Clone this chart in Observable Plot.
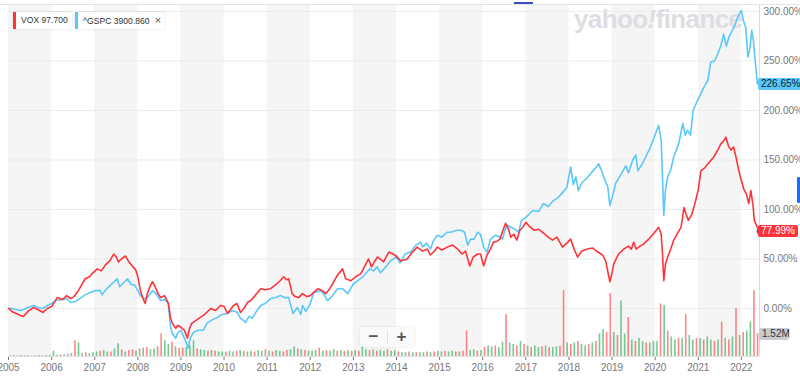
<!DOCTYPE html>
<html><head><meta charset="utf-8">
<script src="https://cdn.jsdelivr.net/npm/d3@7"></script>
<script src="https://cdn.jsdelivr.net/npm/@observablehq/plot@0.6"></script>
<style>
html,body{margin:0;padding:0;background:#fff;}
#chart{position:relative;width:800px;height:380px;overflow:hidden;font-family:"Liberation Sans",Arial,sans-serif;}
#chart svg{position:absolute;left:0;top:0;}
.topline{position:absolute;left:0;top:4px;width:800px;height:1px;background:#e3e4ea;}
.wm{position:absolute;left:574px;top:4px;font-weight:bold;font-size:26px;color:#dedee2;letter-spacing:-0.6px;white-space:nowrap;}
.chip{position:absolute;top:12px;height:17px;background:#fff;border-radius:2px;box-shadow:0 0 2px rgba(0,0,0,0.18);font-size:8.6px;line-height:17px;color:#333;white-space:nowrap;padding:0 4px 0 8px;}
.chip .bar{position:absolute;left:0;top:0;width:3px;height:17px;}
.chip .x{font-size:11px;color:#555;margin-left:5px;}
.tag{position:absolute;left:758px;height:12px;line-height:12px;font-size:10px;padding:0 3px;border-radius:2px;white-space:nowrap;}
.zoom{position:absolute;left:360px;top:327px;width:55px;height:20px;background:rgba(250,250,250,0.95);border-radius:3px;box-shadow:0 0 2px rgba(0,0,0,0.15);}
.zoom span{position:absolute;top:0;width:27px;height:20px;line-height:19px;text-align:center;font-size:17px;font-weight:bold;color:#555;}
</style></head><body><div id="chart"></div>
<script>
// ---- data ----
const years = [2005,2006,2007,2008,2009,2010,2011,2012,2013,2014,2015,2016,2017,2018,2019,2020,2021,2022];
const bandYears = [2005,2007,2009,2011,2013,2015,2017,2019,2021];
const yTicks = [0,50,100,150,200,250,300];
const xStart = 2005, xEnd = 2022.42;
const yMin = -48.5, yMax = 306;

// VOX % change [decimal year, %]
const voxSeries = [
[2005.00,0],[2005.08,-3],[2005.18,-5],[2005.28,-7],[2005.35,-8],[2005.45,-3],[2005.58,1],[2005.68,-1],[2005.80,-4],[2005.90,0],
[2006.00,2],[2006.13,11],[2006.25,9],[2006.35,13],[2006.44,10],[2006.52,12],[2006.62,18],[2006.70,24],[2006.78,30],[2006.88,32],[2006.96,36],
[2007.06,40],[2007.15,38],[2007.25,44],[2007.35,48],[2007.44,55],[2007.50,52],[2007.55,47],[2007.62,50],[2007.71,53],[2007.78,48],[2007.85,44],[2007.95,39],
[2008.00,32],[2008.06,18],[2008.12,10],[2008.17,5],[2008.22,15],[2008.28,22],[2008.34,27],[2008.40,22],[2008.47,15],[2008.53,11],[2008.62,13],[2008.71,5],[2008.76,-10],[2008.80,-15],[2008.88,-20],[2008.92,-17],
[2009.00,-19],[2009.08,-22],[2009.15,-30],[2009.20,-20],[2009.25,-15],[2009.35,-12],[2009.45,-9],[2009.55,-6],[2009.62,-3],[2009.69,0],[2009.80,-2],[2009.92,3],
[2010.00,2],[2010.08,-5],[2010.22,3],[2010.30,5],[2010.38,-4],[2010.46,0],[2010.54,6],[2010.62,8],[2010.72,13],[2010.85,20],[2010.95,19],
[2011.08,20],[2011.20,24],[2011.30,28],[2011.38,32],[2011.45,29],[2011.50,30],[2011.58,15],[2011.65,12],[2011.73,11],[2011.82,15],[2011.92,12],
[2012.00,13],[2012.10,17],[2012.18,20],[2012.28,18],[2012.36,15],[2012.45,20],[2012.52,25],[2012.62,33],[2012.75,40],[2012.82,30],[2012.94,28],
[2013.05,32],[2013.17,35],[2013.28,44],[2013.35,50],[2013.42,42],[2013.50,48],[2013.56,52],[2013.70,47],[2013.82,57],[2013.92,55],
[2014.02,52],[2014.10,48],[2014.25,50],[2014.35,56],[2014.48,62],[2014.60,58],[2014.72,60],[2014.78,54],[2014.88,58],[2014.95,62],
[2015.05,59],[2015.18,62],[2015.30,64],[2015.42,60],[2015.52,55],[2015.60,58],[2015.70,43],[2015.78,52],[2015.88,55],[2015.95,55],
[2016.02,43],[2016.10,54],[2016.18,60],[2016.25,67],[2016.33,68],[2016.40,70],[2016.47,79],[2016.53,86],[2016.60,80],[2016.65,72],[2016.72,75],[2016.79,69],[2016.86,79],[2016.93,82],
[2017.00,87],[2017.08,83],[2017.20,79],[2017.30,80],[2017.41,76],[2017.52,72],[2017.62,69],[2017.72,72],[2017.85,62],[2017.95,66],
[2018.04,70],[2018.12,60],[2018.20,52],[2018.30,58],[2018.43,60],[2018.55,61],[2018.67,57],[2018.78,54],[2018.85,48],[2018.95,27],
[2019.00,36],[2019.04,45],[2019.15,55],[2019.27,60],[2019.38,63],[2019.45,60],[2019.50,67],[2019.56,60],[2019.65,63],[2019.73,65],[2019.85,70],[2019.97,76],
[2020.08,82],[2020.14,75],[2020.17,55],[2020.20,28],[2020.24,45],[2020.29,52],[2020.36,60],[2020.43,69],[2020.52,76],[2020.60,82],[2020.67,102],[2020.72,95],[2020.77,89],[2020.85,95],[2020.94,109],
[2021.00,120],[2021.06,139],[2021.15,142],[2021.22,146],[2021.30,150],[2021.36,153],[2021.45,160],[2021.52,166],[2021.60,170],[2021.64,173],[2021.70,164],[2021.76,160],[2021.82,163],[2021.88,152],[2021.94,139],
[2022.00,129],[2022.06,120],[2022.12,115],[2022.17,106],[2022.22,119],[2022.27,104],[2022.30,89],[2022.34,85],[2022.37,82],[2022.42,77.99]
];

// ^GSPC % change [decimal year, %]
const spxSeries = [
[2005.00,0],[2005.08,0],[2005.18,-1],[2005.28,-2],[2005.35,-1],[2005.45,1],[2005.58,3],[2005.68,1],[2005.80,0],[2005.90,3],
[2006.00,5],[2006.10,8],[2006.25,9],[2006.35,10],[2006.44,6],[2006.55,7],[2006.65,10],[2006.75,13],[2006.88,16],
[2007.00,18],[2007.13,18],[2007.17,14],[2007.28,20],[2007.40,25],[2007.52,30],[2007.58,22],[2007.65,25],[2007.76,30],[2007.85,24],[2007.92,24],
[2008.00,18],[2008.06,13],[2008.15,10],[2008.22,11],[2008.34,18],[2008.42,15],[2008.53,8],[2008.62,9],[2008.70,6],[2008.76,-19],[2008.80,-25],[2008.88,-30],[2008.92,-25],
[2009.00,-22],[2009.08,-30],[2009.17,-40],[2009.22,-29],[2009.30,-24],[2009.40,-22],[2009.52,-22],[2009.60,-15],[2009.70,-12],[2009.85,-9],[2009.95,-6],
[2010.08,-5],[2010.20,-2],[2010.31,-4],[2010.38,-10],[2010.45,-12],[2010.50,-14],[2010.58,-8],[2010.65,-10],[2010.75,-3],[2010.85,3],[2010.95,5],
[2011.08,10],[2011.20,11],[2011.31,13],[2011.40,11],[2011.50,11],[2011.60,-5],[2011.70,1],[2011.78,-6],[2011.82,3],[2011.90,-3],
[2012.00,5],[2012.08,16],[2012.24,18],[2012.32,14],[2012.40,8],[2012.50,12],[2012.63,20],[2012.75,20],[2012.87,15],
[2013.00,25],[2013.10,28],[2013.24,33],[2013.38,40],[2013.47,38],[2013.55,42],[2013.63,36],[2013.75,42],[2013.86,48],
[2014.00,52],[2014.08,46],[2014.20,55],[2014.33,57],[2014.45,64],[2014.56,67],[2014.60,62],[2014.70,66],[2014.79,60],[2014.85,68],[2014.95,74],
[2015.05,72],[2015.18,77],[2015.26,77],[2015.40,79],[2015.50,79],[2015.58,77],[2015.65,64],[2015.72,70],[2015.80,70],[2015.88,77],[2015.95,75],
[2016.02,62],[2016.10,57],[2016.18,70],[2016.30,74],[2016.40,72],[2016.46,70],[2016.52,80],[2016.58,84],[2016.65,82],[2016.75,80],[2016.83,77],[2016.90,89],
[2017.00,92],[2017.16,99],[2017.30,98],[2017.41,106],[2017.52,103],[2017.64,109],[2017.75,112],[2017.85,117],[2017.95,122],
[2018.04,143],[2018.10,125],[2018.16,133],[2018.22,119],[2018.30,127],[2018.40,131],[2018.50,136],[2018.60,141],[2018.69,146],[2018.75,140],[2018.83,130],[2018.90,123],[2018.95,104],
[2019.02,115],[2019.08,126],[2019.20,135],[2019.32,144],[2019.38,137],[2019.48,150],[2019.55,155],[2019.60,139],[2019.70,146],[2019.78,153],[2019.88,162],[2019.97,172],
[2020.08,185],[2020.14,170],[2020.20,94],[2020.24,120],[2020.29,133],[2020.36,140],[2020.43,153],[2020.55,167],[2020.64,187],[2020.70,175],[2020.75,180],[2020.82,175],[2020.88,200],[2020.95,207],
[2021.06,217],[2021.15,225],[2021.22,230],[2021.29,249],[2021.38,250],[2021.45,257],[2021.52,265],[2021.59,277],[2021.65,265],[2021.71,274],[2021.78,280],[2021.85,286],[2021.91,294],
[2022.00,301],[2022.05,290],[2022.10,284],[2022.15,254],[2022.20,263],[2022.24,281],[2022.28,270],[2022.32,250],[2022.37,227],[2022.42,226.65]
];

// VOX monthly volume (millions), Jan 2005 - May 2022
const volume = [
0.05,0.05,0.04,0.06,0.05,0.06,0.04,0.05,0.06,0.05,0.07,0.08,
0.35,0.08,0.1,0.12,0.15,0.2,1.05,0.9,0.2,0.25,0.2,0.25,
0.3,0.35,0.4,0.3,0.3,0.5,0.85,0.45,0.3,0.4,0.45,0.35,
0.5,0.55,0.6,0.45,0.5,0.65,1.5,1.05,0.8,0.95,0.65,0.55,
0.55,0.6,0.7,1.05,0.5,0.45,0.4,0.35,0.4,0.35,0.3,0.3,
0.3,0.35,0.3,0.35,0.4,0.35,0.3,0.35,0.3,0.4,0.35,0.45,
0.35,0.3,0.4,0.35,0.3,0.4,0.45,0.65,0.5,0.45,0.4,0.35,
0.35,0.4,0.55,0.35,0.4,0.35,0.45,0.35,0.4,0.35,0.4,0.35,
0.4,0.35,0.95,0.45,0.4,0.45,0.35,0.4,0.35,0.45,0.35,0.4,
0.3,0.25,0.25,0.3,0.25,0.25,0.25,0.25,0.3,0.25,0.3,0.35,
0.3,0.35,0.3,0.35,0.3,0.3,0.35,1.7,0.4,0.45,0.35,0.4,
0.6,0.7,0.65,0.7,0.6,0.95,2.8,0.9,0.8,0.7,1.0,0.8,
0.7,0.6,0.7,0.6,0.65,0.7,0.6,0.6,0.65,0.7,4.4,0.9,
0.8,0.9,1.0,0.8,0.7,0.8,0.9,1.0,1.5,1.8,1.6,4.2,
1.6,1.4,3.7,1.5,2.6,1.1,1.0,1.2,1.0,0.9,0.9,1.0,
1.0,3.5,3.4,1.7,1.3,1.1,1.2,1.2,2.8,1.4,1.1,1.2,
1.2,1.1,1.3,1.1,1.0,1.1,2.3,1.2,1.1,1.3,3.2,1.4,
1.6,1.7,2.3,4.4,1.52
];
// 1 = up month (green), 0 = down month (red)
const volUp = [
1,0,1,1,0,1,0,1,1,0,1,1,
1,1,0,1,0,1,0,1,1,0,1,1,
1,0,1,1,0,1,1,0,1,0,0,1,
0,1,0,1,1,0,0,1,1,0,1,0,
0,1,1,1,0,1,1,0,1,0,1,1,
0,1,1,0,1,0,1,1,0,1,1,0,
1,0,1,1,0,0,1,1,0,1,0,1,
1,1,0,1,0,1,1,0,1,0,1,0,
1,0,1,1,0,1,0,1,1,0,1,1,
0,1,1,0,1,0,1,1,0,1,0,1,
1,0,1,1,0,1,0,0,1,1,0,1,
0,1,1,0,1,1,0,1,1,0,1,0,
1,0,1,1,0,1,0,1,1,0,0,1,
0,1,0,1,1,0,1,0,1,1,0,0,
1,0,1,1,0,1,0,1,1,0,1,1,
1,0,1,0,1,1,0,1,0,1,1,0,
1,0,1,1,0,1,0,1,0,1,0,1,
0,1,1,0,0
];

const voxLabel = "VOX", voxPrice = "97.700", voxLast = 77.99;
const spxLabel = "^GSPC", spxPrice = "3900.860", spxLast = 226.65;
const lastVolume = "1.52M";

// ---- colours ----
const RED = "#ff333a", BLUE = "#5ac8fa", GREEN = "#1aa64a";

// ---- plots ----
const chart = document.getElementById("chart");
const dims = {width:800, height:380, marginLeft:8, marginRight:41, marginTop:5, marginBottom:24,
  style:{background:"transparent", fontFamily:"'Liberation Sans', Arial, sans-serif", fontSize:"10px", overflow:"visible"}};

const bg = Plot.plot({...dims,
  x:{domain:[xStart,xEnd], axis:null},
  y:{domain:[yMin,yMax], axis:null},
  marks:[
    Plot.rect(bandYears, {x1:d=>d, x2:d=>Math.min(d+1,xEnd), y1:d=>yMin, y2:d=>yMax, fill:"#f5f5f5"}),
    Plot.ruleY(yTicks, {stroke:"#ececec"})
  ]});
chart.appendChild(bg);

const wm = document.createElement("div");
wm.className = "wm";
wm.innerHTML = 'yahoo<span style="font-style:italic">!</span>finance';
chart.appendChild(wm);

const volData = volume.map((v,i)=>({t: xStart + (i+0.5)/12, v, up: volUp[i]}));
const volPlot = Plot.plot({...dims, marginTop:288.5,
  x:{domain:[xStart,xEnd], axis:null},
  y:{domain:[0,4.5], axis:null},
  marks:[
    Plot.ruleX(volData, {x:"t", y1:d=>0, y2:"v", stroke:d=>d.up?GREEN:RED, strokeWidth:1.6, strokeOpacity:0.6})
  ]});
chart.appendChild(volPlot);

const vox = voxSeries.map(([t,v])=>({t,v}));
const spx = spxSeries.map(([t,v])=>({t,v}));
const main = Plot.plot({...dims,
  style:{...dims.style, color:"#777"},
  x:{domain:[xStart,xEnd], ticks:years, tickFormat:d=>String(d), tickSize:4, tickPadding:3, label:null},
  y:{domain:[yMin,yMax], axis:"right", ticks:yTicks, tickSize:0, tickPadding:4, tickFormat:d=>d.toFixed(2)+"%", label:null},
  marks:[
    Plot.ruleY([yMin], {stroke:"#e0e0e0"}),
    Plot.ruleX([xEnd], {stroke:"#dcdcdc"}),
    Plot.line(spx, {x:"t", y:"v", stroke:BLUE, strokeWidth:1.6}),
    Plot.line(vox, {x:"t", y:"v", stroke:RED, strokeWidth:1.6}),
    Plot.dot([vox[vox.length-1]], {x:"t", y:"v", r:3, fill:"#1f6fe8", stroke:"none"})
  ]});
chart.appendChild(main);

// ---- overlays ----
const ySc = main.scale("y");
const top1 = document.createElement("div"); top1.className="topline"; chart.appendChild(top1);

function chip(left, color, text, extra){
  const c = document.createElement("div");
  c.className="chip"; c.style.left=left+"px";
  c.innerHTML = `<div class="bar" style="background:${color}"></div><span>${text}</span>` + (extra||"");
  chart.appendChild(c);
  return c;
}
const c1 = chip(13, RED, `${voxLabel} ${voxPrice}`);
chip(c1.offsetLeft + c1.offsetWidth + 3, BLUE, `${spxLabel} ${spxPrice}`, '<span class="x">×</span>');

function tag(value, text, bg, fg){
  const t = document.createElement("div");
  t.className="tag"; t.textContent=text;
  t.style.top = (ySc.apply(value)-6)+"px"; t.style.background=bg; t.style.color=fg;
  chart.appendChild(t);
}
tag(spxLast, spxLast.toFixed(2)+"%", BLUE, "#0b2033");
tag(voxLast, voxLast.toFixed(2)+"%", RED, "#fff");

const vt = document.createElement("div");
vt.className="tag"; vt.textContent=lastVolume;
vt.style.left="759px"; vt.style.top = (volPlot.scale("y").apply(1.52)-5)+"px";
vt.style.background="#c9ccd2"; vt.style.color="#333"; vt.style.width="24px";
chart.appendChild(vt);

const z = document.createElement("div"); z.className="zoom";
z.innerHTML = '<span style="left:0">−</span><div style="position:absolute;left:27px;top:3px;width:1px;height:14px;background:#e2e2e2"></div><span style="left:28px">+</span>';
chart.appendChild(z);

const tab = document.createElement("div");
tab.style.cssText="position:absolute;left:797px;top:177px;width:3px;height:26px;background:#1a6cff;border-radius:1px;";
chart.appendChild(tab);
const tb = document.createElement("div");
tb.style.cssText="position:absolute;left:514px;top:2px;width:19px;height:2px;background:#3c4dc2;";
chart.appendChild(tb);
</script></body></html>
